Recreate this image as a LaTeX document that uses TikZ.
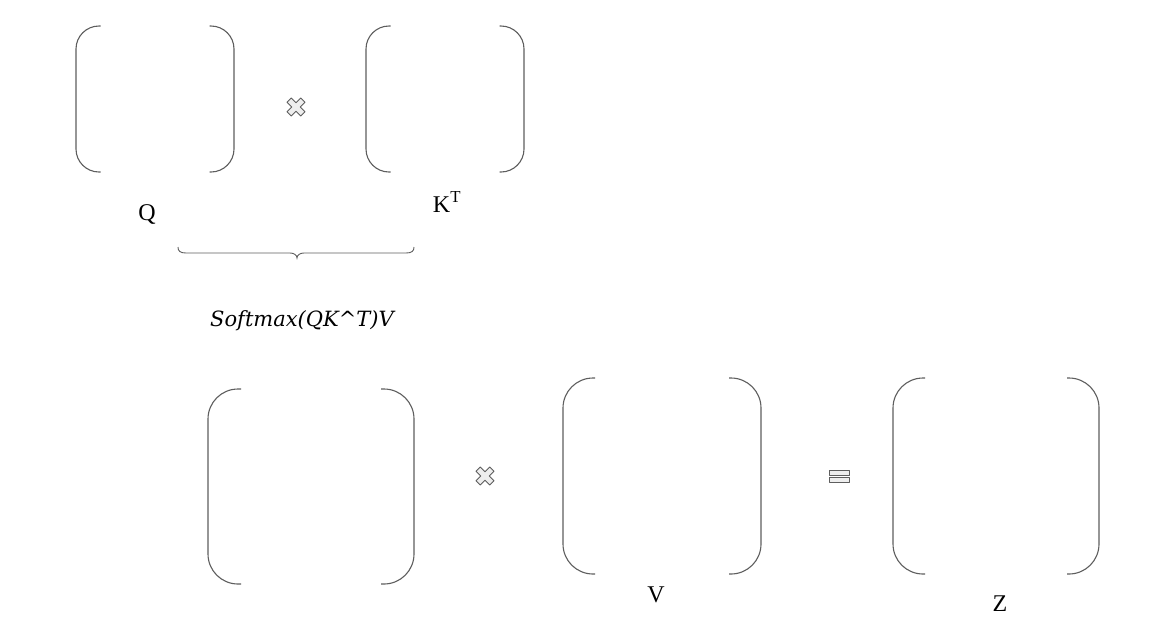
\documentclass[tikz,border=0pt]{standalone}
\usepackage{fontspec}
\setmainfont{Liberation Serif}
\newfontfamily\softfont{DejaVu Serif}
\definecolor{linegray}{HTML}{5E5E5E}
\definecolor{opfill}{HTML}{EEEEEE}
\tikzset{
  bracketline/.style={draw=linegray, line width=1.1pt},
  bracelinestyle/.style={draw=linegray, line width=0.9pt},
  opstyle/.style={draw=linegray, fill=opfill, line width=0.8pt, line join=round},
  lbl/.style={inner sep=0pt, anchor=base, font=\fontsize{24}{28}\selectfont},
  crossop/.pic={
    \path[opstyle, rotate=45] (3,9.7) -- (3,3) -- (9.7,3) -- (9.7,-3) -- (3,-3) -- (3,-9.7)
      -- (-3,-9.7) -- (-3,-3) -- (-9.7,-3) -- (-9.7,3) -- (-3,3) -- (-3,9.7) -- cycle;
  },
  equalsop/.pic={
    \path[opstyle] (-10,-6) rectangle (10,-1);
    \path[opstyle] (-10,1) rectangle (10,6);
  }
}
\newcommand\mymatrix[6]{% left, right, top, bottom, width of arc, radius
  \draw[bracketline, rounded corners=#6pt] (#1+#5,#3) -- (#1,#3) -- (#1,#4) -- (#1+#5,#4);
  \draw[bracketline, rounded corners=#6pt] (#2-#5,#3) -- (#2,#3) -- (#2,#4) -- (#2-#5,#4);
}
\begin{document}
\begin{tikzpicture}[x=1pt, y=-1pt]
  \useasboundingbox[fill=white] (0,0) rectangle (1166,638);
  % matrices
  \node[inner sep=0pt, minimum width=158pt, minimum height=146pt] (mq) at (155,99) {};
  \node[inner sep=0pt, minimum width=158pt, minimum height=146pt] (mk) at (445,99) {};
  \node[inner sep=0pt, minimum width=206pt, minimum height=195pt] (ms) at (311,486) {};
  \node[inner sep=0pt, minimum width=198pt, minimum height=196pt] (mv) at (662,476) {};
  \node[inner sep=0pt, minimum width=206pt, minimum height=196pt] (mz) at (996,476) {};
  \mymatrix{76}{234}{26}{172}{24.5}{23}
  \mymatrix{366}{524}{26}{172}{24.5}{23}
  \mymatrix{208}{414}{389}{584}{33}{30}
  \mymatrix{563}{761}{378}{574}{32}{30}
  \mymatrix{893}{1099}{378}{574}{32}{30}
  % operators
  \coordinate (op1) at (296,107);
  \coordinate (op2) at (485,476);
  \coordinate (op3) at (839,476);
  \pic at (op1) {crossop};
  \pic at (op2) {crossop};
  \pic at (op3) {equalsop};
  % labels
  \node[lbl] (lq) at (147,220) {Q};
  \node[lbl] (lk) at (447,212) {K\textsuperscript{T}};
  \node[lbl] (lv) at (656,602) {V};
  \node[lbl] (lz) at (1000,611) {Z};
  % brace
  \coordinate (bl) at (178,247);
  \coordinate (br) at (414,247);
  \coordinate (bt) at (297,258);
  \draw[bracelinestyle] (bl) .. controls (178,251) and (180,253) .. (186,253) -- (290,253)
    .. controls (294,253) and (297,255) .. (bt)
    .. controls (297,255) and (300,253) .. (304,253) -- (406,253)
    .. controls (412,253) and (414,251) .. (br);
  % softmax text
  \node[inner sep=0pt, anchor=base, font=\softfont\itshape\fontsize{21}{25}\selectfont] (sm) at (302,326) {Softmax(QK\^{}T)V};
\end{tikzpicture}
\end{document}
